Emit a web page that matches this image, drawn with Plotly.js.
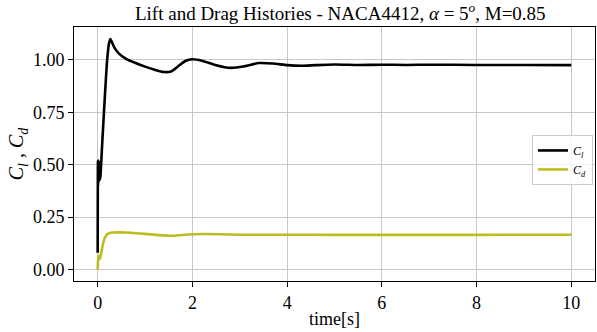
<!DOCTYPE html>
<html>
<head>
<meta charset="utf-8">
<script src="https://cdn.plot.ly/plotly-3.0.1.min.js"></script>
<style>html,body{margin:0;padding:0;background:#fff;}#chart{width:597px;height:332px;}</style>
</head>
<body>
<div id="chart"></div>
<script>
// Lift coefficient history
const tCl = [0, 0.005, 0.01, 0.02, 0.03, 0.04, 0.05, 0.06, 0.1, 0.15, 0.2, 0.24, 0.27, 0.3, 0.35, 0.45, 0.6, 0.8, 1.0, 1.2, 1.4, 1.55, 1.7, 1.85, 2.0, 2.2, 2.5, 2.8, 3.1, 3.4, 3.7, 4.0, 4.3, 4.6, 5.0, 5.5, 6.0, 6.5, 7, 8, 9, 10];
const Cl = [0.08, 0.52, 0.40, 0.52, 0.42, 0.50, 0.43, 0.45, 0.62, 0.82, 1.0, 1.08, 1.10, 1.085, 1.06, 1.03, 1.005, 0.985, 0.968, 0.953, 0.942, 0.945, 0.97, 0.995, 1.003, 0.996, 0.975, 0.962, 0.97, 0.985, 0.983, 0.975, 0.972, 0.975, 0.978, 0.976, 0.977, 0.976, 0.977, 0.976, 0.976, 0.975];
// Drag coefficient history
const tCd = [0, 0.01, 0.02, 0.04, 0.06, 0.1, 0.15, 0.2, 0.3, 0.45, 0.7, 1.0, 1.3, 1.6, 1.9, 2.2, 2.6, 3, 3.5, 4, 5, 6, 7, 8, 9, 10];
const Cd = [0.0, 0.05, 0.065, 0.05, 0.06, 0.11, 0.15, 0.168, 0.176, 0.177, 0.175, 0.17, 0.164, 0.161, 0.167, 0.169, 0.168, 0.166, 0.166, 0.166, 0.165, 0.165, 0.165, 0.165, 0.166, 0.166];
const xTicks = [0, 2, 4, 6, 8, 10];
const yTicks = [0, 0.25, 0.5, 0.75, 1.0];

const font = 'Liberation Serif, DejaVu Serif, serif';
const traces = [
  {x: tCl, y: Cl, mode: 'lines', name: '<i>C<sub>l</sub></i>', line: {color: '#000000', width: 2.6, shape: 'spline', smoothing: 0.5}},
  {x: tCd, y: Cd, mode: 'lines', name: '<i>C<sub>d</sub></i>', line: {color: '#bcbd22', width: 2.6, shape: 'spline', smoothing: 0.5}}
];
const axisCommon = {
  showline: true, linecolor: '#000', linewidth: 1, mirror: true,
  ticks: 'outside', ticklen: 5, tickcolor: '#000', tickwidth: 1,
  showgrid: true, gridcolor: '#c8c8c8', gridwidth: 1, zeroline: false,
  tickfont: {family: font, size: 18, color: '#000'}
};
const layout = {
  width: 597, height: 332,
  margin: {l: 74, r: 2, t: 27, b: 51},
  paper_bgcolor: '#fff', plot_bgcolor: '#fff',
  title: {text: 'Lift and Drag Histories - NACA4412, <i>α</i> = 5<sup><i>o</i></sup>, M=0.85', font: {family: font, size: 19, color: '#000'}, x: 0.57, xanchor: 'center', y: 0.96, yanchor: 'middle'},
  xaxis: Object.assign({}, axisCommon, {range: [-0.5, 10.5], tickvals: xTicks, ticktext: xTicks.map(String),
    title: {text: 'time[s]', font: {family: font, size: 18, color: '#000'}, standoff: 0}}),
  yaxis: Object.assign({}, axisCommon, {range: [-0.055, 1.157], tickvals: yTicks, ticktext: yTicks.map(v => v.toFixed(2)),
    title: {text: '<i>C<sub>l</sub></i> , <i>C<sub>d</sub></i>', font: {family: font, size: 20, color: '#000'}, standoff: 3}}),
  showlegend: true,
  legend: {x: 0.879, y: 0.575, xanchor: 'left', yanchor: 'top', bgcolor: 'rgba(255,255,255,0.8)', bordercolor: '#cccccc', borderwidth: 1,
    font: {family: font, size: 12, color: '#000'}, tracegroupgap: 0, itemwidth: 30}
};
Plotly.newPlot('chart', traces, layout, {displayModeBar: false, staticPlot: true});
</script>
</body>
</html>
